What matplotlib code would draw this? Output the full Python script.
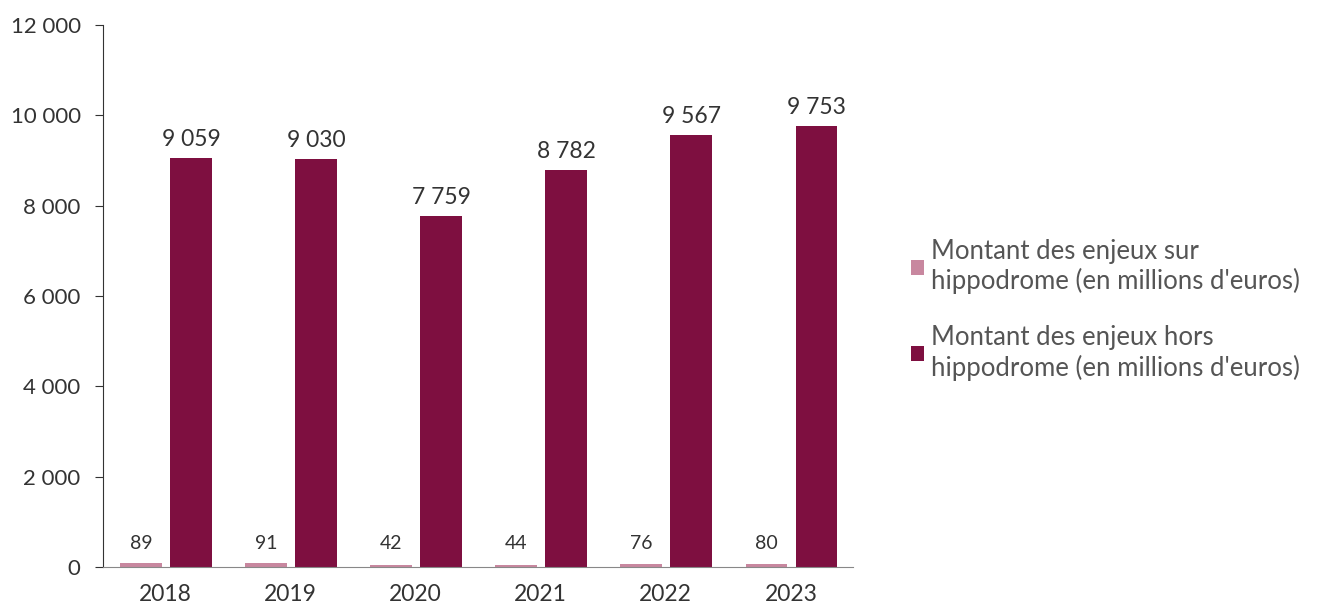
import matplotlib
matplotlib.use("Agg")
import matplotlib.pyplot as plt
import numpy as np

years = ["2018", "2019", "2020", "2021", "2022", "2023"]
sur_hippodrome = [89, 91, 42, 44, 76, 80]
hors_hippodrome = [9059, 9030, 7759, 8782, 9567, 9753]
labels = ["Montant des enjeux sur\nhippodrome (en millions d'euros)",
          "Montant des enjeux hors\nhippodrome (en millions d'euros)"]

plt.rcParams['font.family'] = ['Lato', 'DejaVu Sans']
text_col = '#333333'
light = '#C8879F'
dark = '#7E0F40'


def fmt(v):
    return "{:,}".format(int(v)).replace(",", " ")


fig = plt.figure(figsize=(13.19, 6.04), dpi=100)
ax = fig.add_axes([0.078, 0.061, 0.569, 0.898])

x = np.arange(len(years))
w = 0.335
b1 = ax.bar(x - 0.195, sur_hippodrome, w, color=light, label=labels[0])
b2 = ax.bar(x + 0.205, hors_hippodrome, w, color=dark, label=labels[1])

for r, v in zip(b1, sur_hippodrome):
    ax.text(r.get_x() + r.get_width() / 2, 330, fmt(v), ha='center', va='bottom',
            fontsize=14, color=text_col)
for r, v in zip(b2, hors_hippodrome):
    ax.text(r.get_x() + r.get_width() / 2, v + 180, fmt(v), ha='center', va='bottom',
            fontsize=16.5, color=text_col)

ax.set_xlim(-0.5, len(years) - 0.5)
ax.set_ylim(0, 12000)
ax.set_yticks(range(0, 12001, 2000))
ax.set_yticklabels([fmt(v) for v in range(0, 12001, 2000)])
ax.set_xticks(x)
ax.set_xticklabels(years)
ax.tick_params(axis='y', length=6, color=text_col, labelsize=16, labelcolor=text_col, pad=10)
ax.tick_params(axis='x', length=0, labelsize=16.5, labelcolor=text_col, pad=12)
for s in ['top', 'right']:
    ax.spines[s].set_visible(False)
ax.spines['left'].set_color(text_col)
ax.spines['bottom'].set_color('#888888')

leg = fig.legend(handles=[b1, b2], loc='center left', bbox_to_anchor=(0.673, 0.487),
                 frameon=False, fontsize=18.5, handlelength=0.5, handleheight=0.5,
                 handletextpad=0.3, labelspacing=1.2, labelcolor='#555555')

fig.savefig("out.png", dpi=100)
